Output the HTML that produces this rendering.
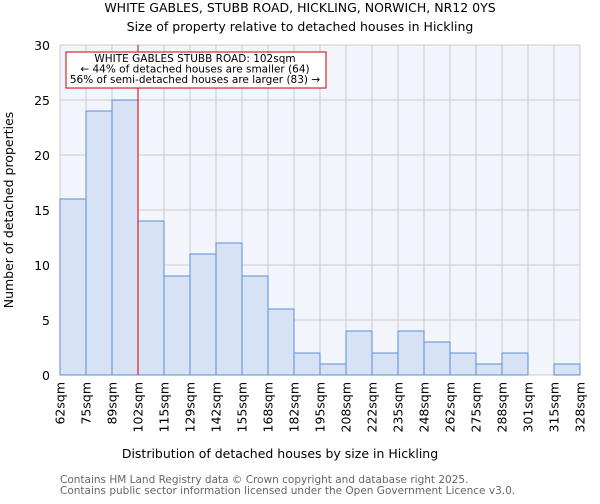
<!DOCTYPE html>
<html><head><meta charset="utf-8"><style>
body{margin:0;background:#fff;font-family:"DejaVu Sans","Liberation Sans",sans-serif}
svg text{font-family:"DejaVu Sans","Liberation Sans",sans-serif}
</style></head><body>
<svg id="c" width="600" height="500">
<text x="300" y="12" text-anchor="middle" font-size="12.5">WHITE GABLES, STUBB ROAD, HICKLING, NORWICH, NR12 0YS</text>
<text x="300" y="31" text-anchor="middle" font-size="12.5">Size of property relative to detached houses in Hickling</text>
<rect x="60" y="45" width="520" height="330" fill="#f3f5fc"/>
<g id="grid"></g><g id="bars"></g><g id="axes"></g>
<text x="280" y="458" text-anchor="middle" font-size="12.5">Distribution of detached houses by size in Hickling</text>
<text transform="translate(13,210) rotate(-90)" text-anchor="middle" font-size="12.5">Number of detached properties</text>
<text x="60" y="483" font-size="10.5" fill="#666">Contains HM Land Registry data © Crown copyright and database right 2025.</text>
<text x="60" y="494" font-size="10.5" fill="#666">Contains public sector information licensed under the Open Government Licence v3.0.</text>
</svg>
<script>
const categories=["62sqm","75sqm","89sqm","102sqm","115sqm","129sqm","142sqm","155sqm","168sqm","182sqm","195sqm","208sqm","222sqm","235sqm","248sqm","262sqm","275sqm","288sqm","301sqm","315sqm","328sqm"];
const counts=[16,24,25,14,9,11,12,9,6,2,1,4,2,4,3,2,1,2,0,1];
const yTicks=[0,5,10,15,20,25,30];
const markerIndex=3;
const NS="http://www.w3.org/2000/svg";
const x0=60,x1=580,y0=375,y1=45,yMax=30;
const bw=(x1-x0)/counts.length;
const xs=i=>x0+i*bw, ys=v=>y0-(v/yMax)*(y0-y1);
function mk(t,a,p){const e=document.createElementNS(NS,t);for(const k in a)e.setAttribute(k,a[k]);p.appendChild(e);return e;}
const grid=document.getElementById('grid'),bars=document.getElementById('bars'),axes=document.getElementById('axes');
yTicks.forEach(v=>{
 const l=mk('line',{x1:x0,x2:x1,y1:ys(v),y2:ys(v),stroke:'#cccccc'},grid);
 
 
 const t=mk('text',{x:50,y:ys(v)+5,'text-anchor':'end','font-size':'12.5'},axes);t.textContent=v;
 
 
});
categories.forEach((c,i)=>{
 const l=mk('line',{x1:xs(i),x2:xs(i),y1:y1,y2:y0,stroke:'#cccccc'},grid);
 
 
 const t=mk('text',{transform:`translate(${xs(i)+4.5},382) rotate(-90)`,'text-anchor':'end','font-size':'12.5'},axes);t.textContent=c;
 
 
});
counts.forEach((v,i)=>{
 if(v<=0)return;
 const r=mk('rect',{x:xs(i),y:ys(v),width:bw,height:y0-ys(v),fill:'#d7e2f4',stroke:'#5b8fd6','stroke-width':1},bars);
 
 
});
const m=mk('line',{x1:xs(markerIndex),x2:xs(markerIndex),y1:y1,y2:y0,stroke:'#cc0000','stroke-width':1},axes);


const b=mk('rect',{x:66,y:52,width:260,height:36,fill:'#fff',stroke:'#cc0000'},axes);


["WHITE GABLES STUBB ROAD: 102sqm","← 44% of detached houses are smaller (64)","56% of semi-detached houses are larger (83) →"].forEach((s,k)=>{
 const t=mk('text',{x:195,y:62+k*10.5,'text-anchor':'middle','font-size':'10.5'},axes);t.textContent=s;
 
 
});
</script>
</body></html>
